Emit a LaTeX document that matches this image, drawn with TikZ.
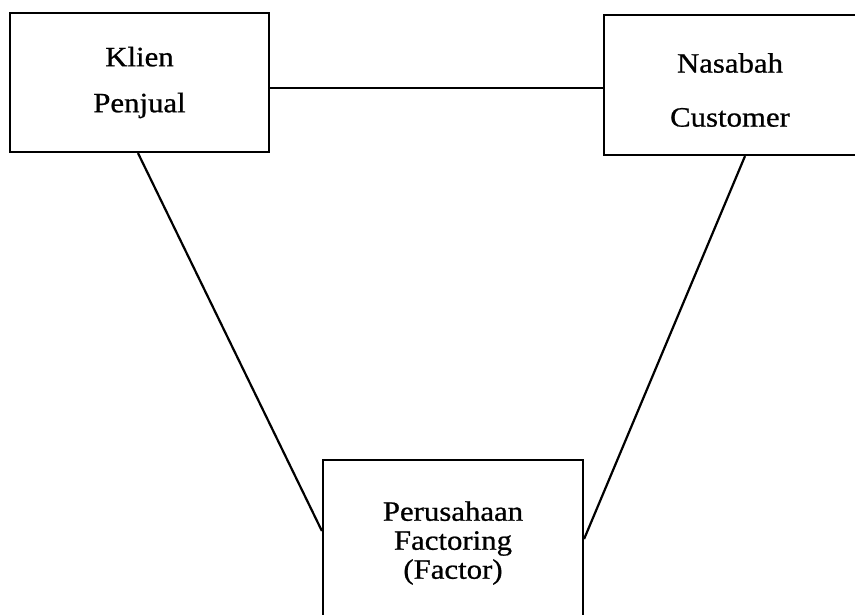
\documentclass[tikz,border=0pt]{standalone}
\usepackage{fontspec}
\setmainfont{Liberation Serif}[FakeStretch=1.1,FakeBold=0.8]
\begin{document}
\begin{tikzpicture}[x=1pt,y=-1pt,
  box/.style={draw,line width=2.2pt,rectangle,inner sep=0pt,align=center,
    font=\fontsize{28}{44}\selectfont},
  link/.style={line width=2.2pt}]
\useasboundingbox (0,0) rectangle (855,614);
\node[box,minimum width=259pt,minimum height=139pt] (klien) at (139.5,82.5) {Klien\\[2pt]Penjual};
\node[box,minimum width=252pt,minimum height=140pt,
  label={[align=center,inner sep=0pt,yshift=-5pt,font=\fontsize{28}{54}\selectfont]center:Nasabah\\Customer}] (nasabah) at (730,85) {};
\node[box,minimum width=260pt,minimum height=166pt,font=\fontsize{28}{29}\selectfont] (factor) at (453,543) {Perusahaan\\Factoring\\(Factor)};
\draw[link] (klien.east |- 0,88) -- (nasabah.west |- 0,88);
\draw[link] ([xshift=-1.5pt]klien.south) -- ([yshift=12pt]factor.west);
\draw[link] ([xshift=15pt]nasabah.south) -- ([yshift=4pt]factor.east);
\end{tikzpicture}
\end{document}
